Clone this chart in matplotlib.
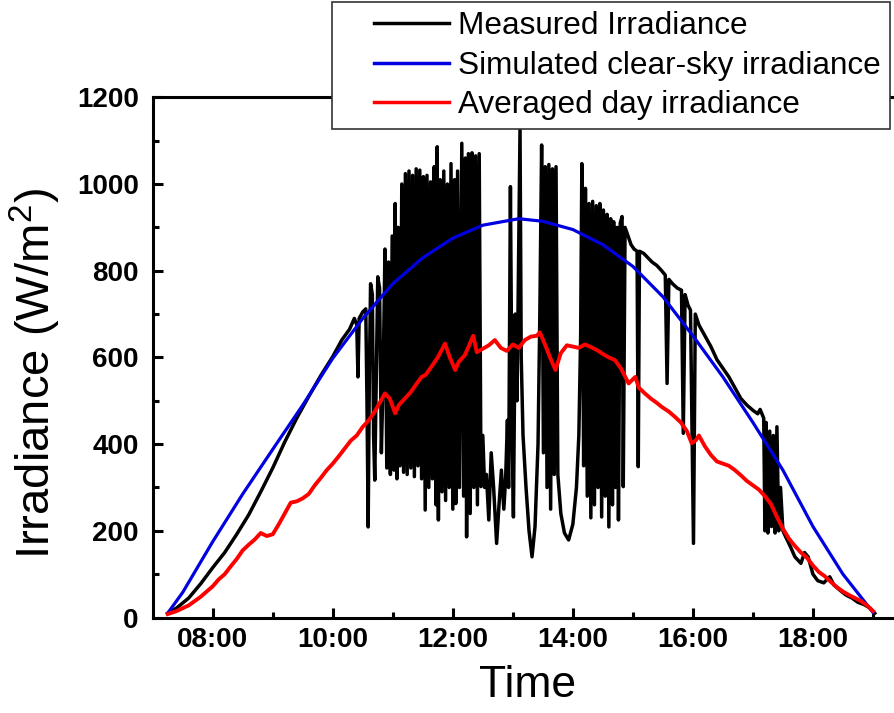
import numpy as np
import matplotlib
matplotlib.use('Agg')
import matplotlib.pyplot as plt
from matplotlib.legend_handler import HandlerLine2D

plt.rcParams['font.family'] = ['Liberation Sans', 'DejaVu Sans']
plt.rcParams['mathtext.default'] = 'regular'

# ---- data (time in hours, irradiance in W/m2) ----
clear_t = [7.25, 7.5, 8.0, 8.5, 9.0, 9.5, 10.0, 10.5, 11.0, 11.5, 12.0, 12.5, 13.1,
           13.5, 14.0, 14.5, 15.0, 15.5, 16.0, 16.5, 17.0, 17.5, 18.0, 18.5, 19.0]
clear_v = [10, 58, 175, 285, 388, 490, 598, 690, 770, 830, 875, 905, 920,
           914, 895, 860, 810, 740, 650, 555, 450, 340, 210, 100, 12]

avg_t = [7.25, 7.4, 7.6, 7.8, 8.0, 8.1, 8.2, 8.3, 8.4, 8.5, 8.6, 8.7, 8.8, 8.9, 9.0,
         9.1, 9.2, 9.3, 9.4, 9.5, 9.6, 9.7, 9.8, 9.9, 10.0, 10.1, 10.2, 10.3, 10.4,
         10.5, 10.6, 10.7, 10.8, 10.87, 10.95, 11.04, 11.1, 11.2, 11.3, 11.4, 11.48,
         11.55, 11.65, 11.75, 11.87, 11.95, 12.04, 12.1, 12.2, 12.34, 12.4, 12.5,
         12.6, 12.7, 12.8, 12.9, 13.0, 13.1, 13.2, 13.3, 13.4, 13.45, 13.55, 13.62,
         13.71, 13.8, 13.9, 14.0, 14.1, 14.2, 14.3, 14.4, 14.5, 14.6, 14.7, 14.8,
         14.93, 15.04, 15.1, 15.2, 15.3, 15.4, 15.48, 15.6, 15.7, 15.8, 15.9, 15.98,
         16.05, 16.1, 16.2, 16.3, 16.4, 16.5, 16.6, 16.7, 16.8, 16.9, 17.0, 17.1,
         17.2, 17.3, 17.4, 17.5, 17.6, 17.7, 17.8, 17.9, 18.0, 18.1, 18.2, 18.3,
         18.4, 18.5, 18.6, 18.7, 18.8, 18.9, 19.0]
avg_v = [8, 15, 28, 48, 72, 88, 100, 118, 135, 155, 168, 180, 195, 188, 192,
         215, 240, 265, 268, 275, 285, 305, 322, 340, 355, 372, 390, 408, 420,
         440, 455, 475, 500, 517, 505, 471, 490, 505, 520, 540, 555,
         560, 580, 600, 632, 600, 571, 590, 605, 650, 612, 620,
         628, 640, 622, 615, 630, 622, 640, 648, 650, 658, 625, 600,
         571, 610, 628, 625, 622, 630, 624, 617, 608, 600, 594, 575,
         540, 555, 530, 517, 505, 495, 486, 475, 463, 450, 430, 402,
         409, 420, 395, 375, 360, 355, 350, 340, 328, 315, 305, 295,
         280, 262, 232, 205, 182, 165, 150, 138, 120, 105, 95, 82,
         70, 60, 52, 45, 38, 28, 15]

meas_t = [7.25, 7.4, 7.6, 7.8, 8.0, 8.2, 8.4, 8.6, 8.8, 9.0, 9.2, 9.4, 9.6, 9.8,
          10.0, 10.15, 10.28, 10.36, 10.40, 10.42, 10.44, 10.50, 10.55, 10.57,
          10.59, 10.61, 10.63, 10.66, 10.68, 10.70, 10.72, 10.75, 10.78, 10.81,
          10.84, 10.87, 10.90, 10.93, 10.96, 10.99, 11.02, 11.04, 11.07, 11.09,
          11.12, 11.15, 11.18, 11.21, 11.24, 11.27, 11.30, 11.33, 11.36, 11.39,
          11.42, 11.45, 11.48, 11.51, 11.54, 11.57, 11.60, 11.63, 11.66, 11.69,
          11.72, 11.74, 11.76, 11.79, 11.82, 11.85, 11.88, 11.91, 11.94, 11.97,
          12.00, 12.03, 12.05, 12.08, 12.11, 12.15, 12.18, 12.21, 12.23, 12.26,
          12.29, 12.32, 12.35, 12.38, 12.41, 12.44, 12.47, 12.50, 12.53, 12.56,
          12.60, 12.64, 12.68, 12.73, 12.77, 12.81, 12.85, 12.88, 12.91, 12.93,
          12.96, 12.99, 13.01, 13.04, 13.07, 13.10, 13.12, 13.14, 13.17, 13.22,
          13.27, 13.32, 13.37, 13.42, 13.45, 13.48, 13.51, 13.54, 13.57, 13.60,
          13.63, 13.66, 13.69, 13.72, 13.75, 13.80, 13.86, 13.93, 14.00, 14.06,
          14.10, 14.13, 14.15, 14.18, 14.21, 14.24, 14.27, 14.30, 14.33, 14.36,
          14.39, 14.42, 14.45, 14.48, 14.51, 14.54, 14.57, 14.60, 14.63, 14.66,
          14.68, 14.71, 14.74, 14.76, 14.79, 14.82, 14.84, 14.87, 14.92, 14.97,
          15.02, 15.07, 15.09, 15.11, 15.18, 15.25, 15.32, 15.40, 15.48, 15.54,
          15.57, 15.60, 15.66, 15.74, 15.81, 15.84, 15.87, 15.92, 15.96, 16.01,
          16.04, 16.10, 16.2, 16.3, 16.4, 16.5, 16.6, 16.7, 16.8, 16.9, 17.0,
          17.08, 17.12, 17.18, 17.20, 17.22, 17.25, 17.28, 17.31, 17.34, 17.37,
          17.40, 17.43, 17.46, 17.50, 17.55, 17.62, 17.7, 17.8, 17.86, 17.92,
          18.0, 18.08, 18.18, 18.28, 18.35, 18.45, 18.55, 18.65, 18.75, 18.85,
          18.95, 19.03]
meas_v = [10, 22, 45, 78, 115, 150, 192, 237, 290, 345, 405, 460, 510, 558,
          602, 640, 665, 690, 675, 555, 690, 705, 712, 500,
          209, 560, 770, 745, 420, 317, 500, 786, 760, 380,
          560, 850, 345, 820, 330, 880, 340, 955, 320, 900,
          350, 1000, 335, 1024, 330, 1030, 345, 1020, 325, 1035,
          350, 1032, 320, 1017, 248, 1020, 300, 1005, 320, 1040,
          260, 1086, 225, 1010, 290, 1030, 270, 1000, 300, 1047,
          250, 1010, 263, 1030, 300, 1094, 280, 1060, 186, 1070,
          240, 1072, 300, 1065, 260, 1070, 302, 420, 300, 330,
          225, 380, 300, 171, 260, 340, 250, 320, 455, 300,
          994, 400, 232, 700, 500, 880, 1128, 600, 420, 300,
          200, 140, 210, 400, 700, 1090, 380, 1040, 300, 1045,
          250, 1035, 330, 1040, 330, 240, 195, 179, 215, 300,
          420, 650, 1047, 350, 990, 280, 955, 230, 960, 260,
          950, 300, 955, 232, 940, 280, 930, 209, 920, 260,
          913, 300, 900, 225, 910, 925, 302, 900, 880, 860,
          850, 845, 348, 845, 840, 830, 820, 812, 800, 790,
          540, 780, 770, 760, 755, 425, 745, 720, 709, 171,
          700, 675, 650, 625, 595, 575, 555, 530, 505, 490, 478,
          470, 480, 460, 200, 450, 195, 430, 210, 420, 195,
          440, 200, 300, 200, 185, 165, 140, 125, 150, 140,
          100, 85, 80, 94, 75, 63, 52, 45, 35, 30,
          22, 10]

hour_ticks = [8, 10, 12, 14, 16, 18]
hour_labels = ['08:00', '10:00', '12:00', '14:00', '16:00', '18:00']
series_names = ['Measured Irradiance', 'Simulated clear-sky irradiance',
                'Averaged day irradiance']


class OffsetLine(HandlerLine2D):
    # legend line drawn only on the right part of the handle box
    def get_xdata(self, legend, xdescent, ydescent, width, height, fontsize):
        xd = np.array([-xdescent + 0.3 * width, -xdescent + width])
        return xd, xd


fig = plt.figure(figsize=(8.95, 7.13), dpi=100)
ax = fig.add_axes([0.1706, 0.1339, 0.8383, 0.7296])

l1, = ax.plot(meas_t, meas_v, color='black', lw=2.5, label=series_names[0])
l2, = ax.plot(clear_t, clear_v, color='#0000e0', lw=2.3, label=series_names[1])
l3, = ax.plot(avg_t, avg_v, color='#ff0000', lw=2.8, label=series_names[2])

ax.set_xlim(7, 19.5)
ax.set_ylim(0, 1200)
ax.set_xticks(hour_ticks)
ax.set_xticklabels(hour_labels)
ax.set_xticks([9, 11, 13, 15, 17, 19], minor=True)
ax.set_yticks(np.arange(0, 1201, 200))
ax.set_yticks(np.arange(100, 1200, 200), minor=True)

ax.tick_params(which='both', direction='in', width=2.2, top=False, right=False)
ax.tick_params(which='major', length=7)
ax.tick_params(which='minor', length=4)
ax.tick_params(axis='x', which='major', labelsize=20, pad=7)
ax.tick_params(axis='y', which='major', labelsize=20, pad=10)
for lab in ax.get_xticklabels() + ax.get_yticklabels():
    lab.set_fontweight('bold')
for sp in ax.spines.values():
    sp.set_linewidth(2.2)

ax.set_xlabel('Time', fontsize=32)
ax.set_ylabel(r'Irradiance (W/m$^2$)', fontsize=34)
ax.xaxis.set_label_coords(0.5, -0.091)
ax.yaxis.set_label_coords(-0.119, 0.469)

leg = ax.legend(handles=[l1, l2, l3], loc='upper left',
                bbox_to_anchor=(332 / 895, 1 - 2 / 713), bbox_transform=fig.transFigure,
                borderaxespad=0, fontsize=22.7, frameon=True, fancybox=False,
                framealpha=1, borderpad=0.3, labelspacing=0.29, handlelength=3.4,
                handletextpad=0.29, handler_map={matplotlib.lines.Line2D: OffsetLine()})
leg.get_frame().set_edgecolor('#333333')
leg.get_frame().set_linewidth(1.2)
for h in leg.get_lines():
    h.set_linewidth(2.5)

fig.savefig('out.png', dpi=100)
